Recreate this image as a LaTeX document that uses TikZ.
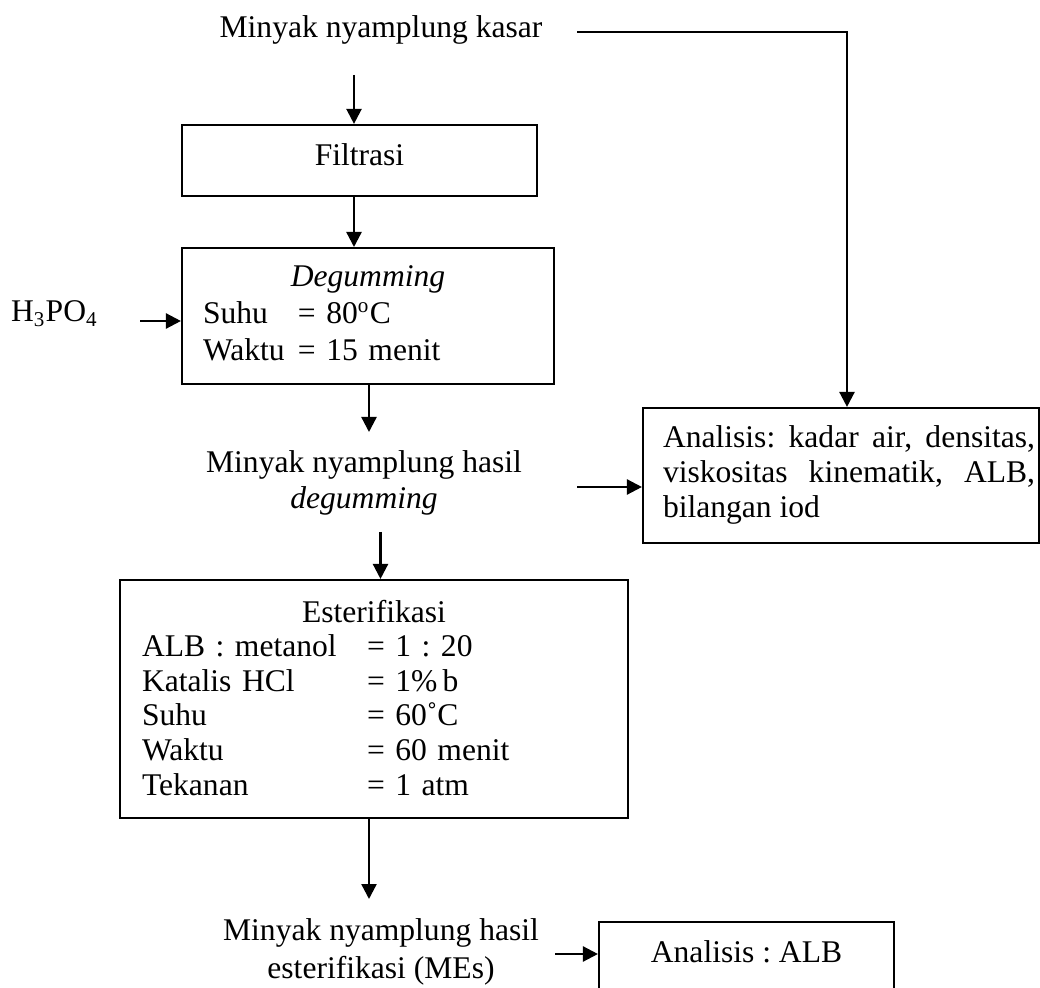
\documentclass[tikz,border=0pt]{standalone}
\usepackage{fontspec}
\setmainfont{Liberation Serif}
\usetikzlibrary{arrows.meta}
\frenchspacing
\begin{document}
\begin{tikzpicture}[x=0.38pt,y=-0.38pt,
  txt/.style={font=\fontsize{12pt}{13.9pt}\selectfont, inner sep=0pt, anchor=base},
  box/.style={draw, line width=0.8pt, inner sep=0pt, anchor=base,
              font=\fontsize{12pt}{13.9pt}\selectfont},
  flow/.style={line width=0.9pt, -{Triangle[length=5.7pt,width=5.7pt]}}]
\path[use as bounding box] (0,0) rectangle (1040,988);
\clip (0,0) rectangle (1040,988);

% ---- process boxes ----
\node[box, text height=15.6pt, text depth=11.4pt, minimum width=134.9pt]
  (filtrasi) at (359.5,166) {Filtrasi};

\node[box, text width=125.4pt, inner xsep=7.98pt, text height=14.8pt, text depth=36.9pt]
  (degum) at (368,287)
  {{\centering\textit{Degumming}\par}%
   \makebox[36.1pt][l]{Suhu}= 80\textsuperscript{o}C\par
   \makebox[36.1pt][l]{Waktu}= 15 menit};

\node[box, text width=176.3pt, inner xsep=8.36pt, text height=15.96pt, text depth=74.5pt,
      font=\fontsize{12pt}{13.15pt}\selectfont]
  (ester) at (374,622)
  {{\centering Esterifikasi\par}%
   \makebox[85.5pt][l]{ALB : metanol}= 1 : 20\par
   \makebox[85.5pt][l]{Katalis HCl}= 1\%\,b\par
   \makebox[85.5pt][l]{Suhu}= 60˚C\par
   \makebox[85.5pt][l]{Waktu}= 60 menit\par
   \makebox[85.5pt][l]{Tekanan}= 1 atm};

\node[box, inner xsep=0pt, text height=15.2pt, text depth=36.1pt,
      font=\fontsize{12pt}{13.3pt}\selectfont]
  (anal) at (841,448)
  {\makebox[150.48pt][l]{\hspace*{7.6pt}\parbox[t]{141.4pt}{%
     \tolerance=10000 \hyphenpenalty=10000 \parindent=0pt
     Analisis: kadar air, densitas,\linebreak viskositas kinematik, ALB,\linebreak bilangan iod}}};

\node[box, minimum width=112.1pt, text height=15.2pt, text depth=18.2pt]
  (alb) at (746.5,962) {Analisis : ALB};

% ---- stream labels ----
\node[txt] (kasar) at (381,38) {Minyak nyamplung kasar};
\node[txt] (h3po4) at (54.5,322) {H\textsubscript{3}PO\textsubscript{4}};
\node[txt] (hasilA) at (364,472) {Minyak nyamplung hasil};
\node[txt] (hasilA2) at (364,508) {\textit{degumming}};
\node[txt] (hasilB) at (381,940) {Minyak nyamplung hasil};
\node[txt] (hasilB2) at (381,978) {esterifikasi (MEs)};

% ---- connectors ----
\coordinate (k0) at (354,75);
\draw[flow] (k0) -- (k0 |- filtrasi.north);
\draw[flow] (filtrasi.south -| k0) -- (degum.north -| k0);

\coordinate (h0) at (140,321);
\draw[flow] (h0) -- (h0 -| degum.west);

\coordinate (d1) at (369,432);
\draw[flow] (degum.south -| d1) -- (d1);

\coordinate (r0) at (577,32);
\coordinate (r1) at (847,32);
\draw[flow] (r0) -- (r1) -- (r1 |- anal.north);

\coordinate (a0) at (577,487);
\draw[flow] (a0) -- (a0 -| anal.west);

\coordinate (e0) at (380.5,532);
\draw[flow] (e0) -- (e0 |- ester.north);

\coordinate (e1) at (369,899);
\draw[flow] (ester.south -| e1) -- (e1);

\coordinate (m0) at (555,954);
\draw[flow] (m0) -- (m0 -| alb.west);
\end{tikzpicture}
\end{document}
